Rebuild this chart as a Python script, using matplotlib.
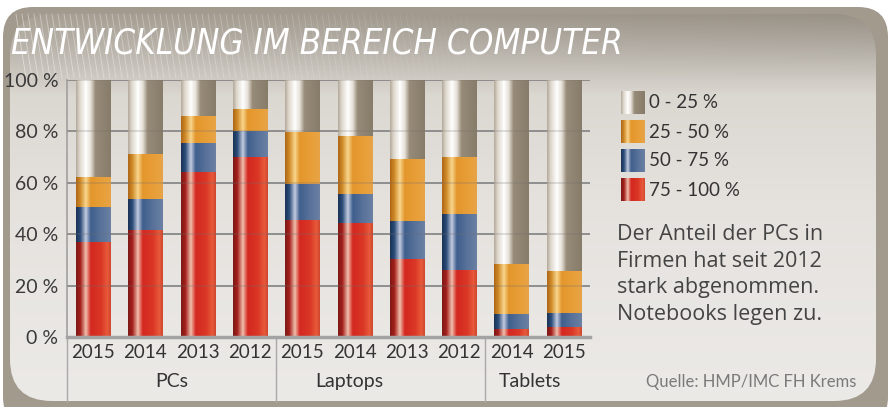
import numpy as np
import matplotlib
matplotlib.use("Agg")
import matplotlib.pyplot as plt
from matplotlib.colors import LinearSegmentedColormap
from matplotlib.patches import FancyBboxPatch
from matplotlib.transforms import blended_transform_factory

# %% data (share in %, stacked bottom -> top)
years = ['2015', '2014', '2013', '2012', '2015', '2014', '2013', '2012', '2014', '2015']
groups = ['PCs', 'Laptops', 'Tablets']
group_pos = [1.5, 4.9, 8.35]
group_edges = [-0.5, 3.5, 7.5]
seg_75_100 = [37.1, 41.6, 64.2, 70.2, 45.5, 44.4, 30.2, 25.9, 3.1, 3.9]
seg_50_75 = [13.5, 12.1, 11.3, 10.0, 14.2, 11.4, 14.9, 22.1, 5.8, 5.3]
seg_25_50 = [11.5, 17.5, 10.5, 8.5, 19.9, 22.5, 24.0, 22.0, 19.5, 16.6]
seg_0_25 = [37.9, 28.8, 14.0, 11.3, 20.4, 21.7, 30.9, 30.0, 71.6, 74.2]
labels = ['75 - 100 %', '50 - 75 %', '25 - 50 %', '0 - 25 %']
yticks = [0, 20, 40, 60, 80, 100]
ytick_labels = ['0 %', '20 %', '40 %', '60 %', '80 %', '100 %']
note = ['Der Anteil der PCs in', 'Firmen hat seit 2012', 'stark abgenommen.', 'Notebooks legen zu.']

# cylinder-like shading for each colour
red = [(0, '#7d1a16'), (0.12, '#a41f1a'), (0.28, '#f0bfae'), (0.42, '#d42820'),
       (0.72, '#da3726'), (0.9, '#e85a3a'), (1, '#d04830')]
blue = [(0, '#1a3458'), (0.12, '#2b4b78'), (0.28, '#c3cce0'), (0.42, '#3f5f8c'),
        (0.75, '#5b749c'), (1, '#6b80a3')]
orange = [(0, '#ad6717'), (0.12, '#d08a28'), (0.28, '#f9d68e'), (0.42, '#e3962c'),
          (0.8, '#e9a03a'), (1, '#e6a348')]
gray = [(0, '#b5ab9b'), (0.1, '#ddd6cc'), (0.28, '#ffffff'), (0.42, '#e6e0d8'),
        (0.56, '#978b78'), (1, '#877c69')]
series = [seg_75_100, seg_50_75, seg_25_50, seg_0_25]
shades = [red, blue, orange, gray]


def hgrad(stops):
    cmap = LinearSegmentedColormap.from_list('g', stops)
    return cmap(np.linspace(0, 1, 90))[None, :, :]


plt.rcParams['font.family'] = ['Lato', 'DejaVu Sans']
fig = plt.figure(figsize=(8.91, 4.07), dpi=100)
fig.patch.set_facecolor('white')

# %% background panel in pixel coordinates
bg = fig.add_axes([0, 0, 1, 1], zorder=0)
bg.set_xlim(0, 891)
bg.set_ylim(407, 0)
bg.axis('off')

frame = FancyBboxPatch((3, 7), 885, 420, boxstyle='round,pad=0,rounding_size=30',
                       fc='#a29a8d', ec='none', zorder=1)
bg.add_patch(frame)

H, W = 200, 300
yy = np.linspace(14, 401, H)[:, None]
xx = np.linspace(0, 1, W)[None, :]
ys = [14, 40, 72, 95, 200, 401]
cols = np.array([[168, 160, 148], [182, 176, 167], [203, 198, 190],
                 [219, 215, 209], [229, 226, 222], [236, 234, 231]]) / 255.0
img = np.zeros((H, W, 3))
for c in range(3):
    img[:, :, c] = np.interp(yy[:, 0], ys, cols[:, c])[:, None]
head = np.clip((80 - yy) / 66, 0, 1)
img = img * (1 - 0.09 * head * xx)[:, :, None]
inner = FancyBboxPatch((10, 14), 866, 387, boxstyle='round,pad=0,rounding_size=42',
                       fc='none', ec='none')
bg.add_patch(inner)
im = bg.imshow(img, extent=[10, 876, 401, 14], aspect='auto', interpolation='bilinear', zorder=2)
im.set_clip_path(inner)

# white streaks in the header
for i, x0 in enumerate(np.arange(16, 470, 6)):
    a = 0.45 * (1 - i / 80)
    bg.plot([x0, x0 + 10], [14, 78], color='white', lw=0.6, alpha=max(a, 0.05), zorder=3)
bg.set_xlim(0, 891)
bg.set_ylim(407, 0)

bg.text(11, 44, 'ENTWICKLUNG IM BEREICH COMPUTER', color='white', fontsize=25,
        style='italic', family='DejaVu Sans', stretch='condensed', weight='light',
        va='center', zorder=5)

# legend
sw_y = [103, 132, 161, 190]
for lab, stops, yc in zip(labels[::-1], shades[::-1], sw_y):
    bg.imshow(hgrad(stops), extent=[621, 645, yc + 11.5, yc - 11.5], aspect='auto',
              interpolation='bilinear', zorder=4)
    bg.text(649, yc, lab, fontsize=13.5, color='#333333', va='center', zorder=5)
bg.set_xlim(0, 891)
bg.set_ylim(407, 0)

for i, line in enumerate(note):
    bg.text(617, 240 + i * 26.7, line, fontsize=15.5, color='#444444', va='baseline',
            family=['Open Sans', 'DejaVu Sans'], zorder=5)

bg.text(856, 382, 'Quelle: HMP/IMC FH Krems', fontsize=12, color='#7a7a7a',
        ha='right', va='center', zorder=5)

# %% chart
ax = fig.add_axes([66.7 / 891, 70 / 407, (590 - 66.7) / 891, 257 / 407], zorder=2)
ax.patch.set_alpha(0)
x = np.arange(len(years))
bottom = np.zeros(len(years))
for vals, stops in zip(series, shades):
    bars = ax.bar(x, vals, 0.65, bottom=bottom, color=stops[3][1], linewidth=0, zorder=2)
    g = hgrad(stops)
    for b in bars:
        ax.imshow(g, extent=[b.get_x(), b.get_x() + b.get_width(), b.get_y(), b.get_y() + b.get_height()],
                  aspect='auto', interpolation='bilinear', zorder=2.5)
    bottom += np.array(vals)

ax.set_xlim(-0.5, 9.5)
ax.set_ylim(0, 100)
for yv in yticks[1:]:
    ax.axhline(yv, color='#8c8c8c', lw=1.2, zorder=1)
    ax.axhline(yv, color='#6e6e6e', lw=1.2, alpha=0.25, zorder=3)

for s in ['top', 'right']:
    ax.spines[s].set_visible(False)
ax.spines['left'].set_color('#a0a0a0')
ax.spines['left'].set_linewidth(1.2)
ax.spines['bottom'].set_color('#a3a3a3')
ax.spines['bottom'].set_linewidth(2.5)
ax.spines['bottom'].set_zorder(4)

ax.set_yticks(yticks)
ax.set_yticklabels(ytick_labels, fontsize=14, color='#3a3a3a')
ax.set_xticks(x)
ax.set_xticklabels(years, fontsize=13.5, color='#333333')
ax.tick_params(length=0)
ax.tick_params(axis='y', pad=6)
ax.tick_params(axis='x', pad=5)

tr = blended_transform_factory(ax.transData, ax.transAxes)
for xe in group_edges:
    ax.plot([xe, xe], [0, -0.253], color='#a8a8a8', lw=1, transform=tr, clip_on=False)
for name, gp in zip(groups, group_pos):
    ax.text(gp, -0.175, name, fontsize=14, color='#333333', ha='center', va='center',
            transform=tr)

fig.savefig('out.png', dpi=100, facecolor='white')
